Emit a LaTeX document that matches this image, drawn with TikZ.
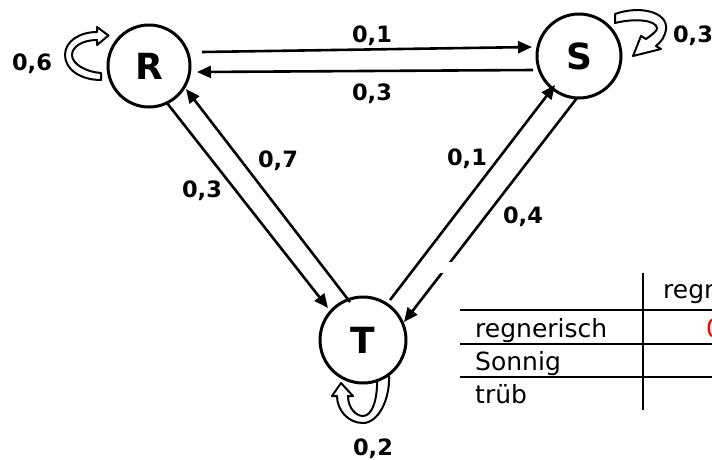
\documentclass[tikz,border=0pt]{standalone}
\usepackage{fontspec}
\setmainfont{DejaVu Sans}
\usetikzlibrary{arrows.meta,calc}

\tikzset{
  state/.style={circle, draw, line width=3pt, fill=white, inner sep=0pt,
                font=\fontsize{36}{40}\selectfont\bfseries},
  arr/.style={line width=2.6pt, -{Triangle[length=14pt,width=12pt]}},
  prob/.style={anchor=base, inner sep=0pt, font=\fontsize{22.5}{26}\selectfont\bfseries},
  loopband/.style={draw, line width=2pt, fill=white, line join=round},
  cell/.style={anchor=base west, inner sep=0pt, font=\fontsize{25}{30}\selectfont},
  rule/.style={line width=2pt}
}

\begin{document}
\begin{tikzpicture}[x=1pt, y=-1pt]
  \useasboundingbox (0,0) rectangle (712,459);

  % self-loops drawn as outlined block arrows
  \path[loopband] (97,27) -- (108.5,35.5) -- (97,45) -- (97,40)
     .. controls (82,40) and (72,47) .. (72,55)
     .. controls (72,64) and (86,72) .. (101,73) -- (101,80)
     .. controls (80,80) and (65,69) .. (65,55)
     .. controls (65,41) and (80,32) .. (97,32) -- cycle;
  \path[loopband] (615,14) .. controls (640,5) and (668,12) .. (666,29)
     .. controls (665,37) and (661,42) .. (656,46) -- (661,49) -- (633,56)
     -- (641,36) -- (646,39) .. controls (652,35) and (658,30) .. (657,28)
     .. controls (656,20) and (635,18) .. (615,23) -- cycle;
  \path[loopband] (377,376) -- (389,376) .. controls (390,400) and (378,423) .. (363,423)
     .. controls (348,423) and (337,410) .. (337,396) -- (332,396) -- (341,383)
     -- (353,396) -- (348,396) .. controls (348,408) and (356,416) .. (363,416)
     .. controls (372,416) and (378,400) .. (377,376) -- cycle;

  % states
  \node[state, minimum size=82pt] (R) at (149,66) {R};
  \node[state, minimum size=84pt] (S) at (579,56) {S};
  \node[state, minimum size=86pt] (T) at (363,340) {T};

  % transitions
  \draw[arr] ($(R)+(53,-14)$) -- ($(S)+(-47,-9)$);
  \draw[arr] ($(S)+(-46,14)$) -- ($(R)+(48,6)$);
  \draw[arr] ($(R)+(18,37)$) -- ($(T)+(-35,-32)$);
  \draw[arr] ($(T)+(-13,-38)$) -- ($(R)+(37,23)$);
  \draw[arr] ($(T)+(27,-40)$) -- ($(S)+(-24,29)$);
  \draw[arr] ($(S)+(-2,42)$) -- ($(T)+(41,-18)$);

  % white strip above the table
  \fill[white] (436,262) rectangle (712,273);

  % transition probabilities
  \node[prob] (pRR) at (32,70) {0,6};
  \node[prob] (pSS) at (693,42) {0,3};
  \node[prob] (pRS) at (372,42) {0,1};
  \node[prob] (pSR) at (372,100) {0,3};
  \node[prob] (pTR) at (278,167) {0,7};
  \node[prob] (pRT) at (202,197) {0,3};
  \node[prob] (pTS) at (467,165) {0,1};
  \node[prob] (pST) at (523,223) {0,4};
  \node[prob] (pTT) at (373,455) {0,2};

  % transition table
  \draw[rule] (460,310) -- (712,310);
  \draw[rule] (460,343.5) -- (712,343.5);
  \draw[rule] (460,376.5) -- (712,376.5);
  \draw[rule] (643,273) -- (643,410);
  \node[cell] (h1) at (663,298) {regnerisch};
  \node[cell] (r1) at (475,337) {regnerisch};
  \node[cell] (r2) at (475,370) {Sonnig};
  \node[cell] (r3) at (475,403) {trüb};
  \node[cell, text=red] (v11) at (706,337) {0};
\end{tikzpicture}
\end{document}
